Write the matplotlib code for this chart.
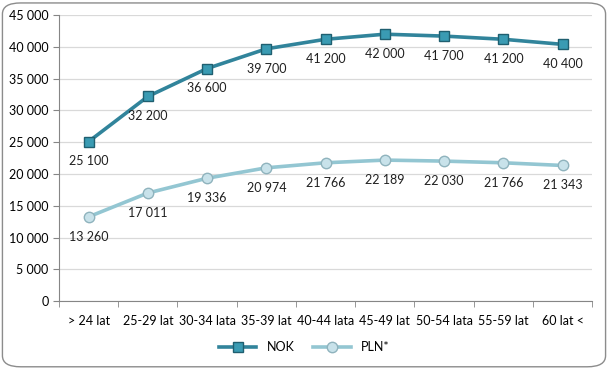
import matplotlib.pyplot as plt
from matplotlib.patches import FancyBboxPatch
from matplotlib.ticker import FuncFormatter

categories = ['> 24 lat', '25-29 lat', '30-34 lata', '35-39 lat', '40-44 lata',
              '45-49 lat', '50-54 lata', '55-59 lat', '60 lat <']
nok = [25100, 32200, 36600, 39700, 41200, 42000, 41700, 41200, 40400]
pln = [13260, 17011, 19336, 20974, 21766, 22189, 22030, 21766, 21343]

plt.rcParams['font.family'] = ['Lato', 'DejaVu Sans']


def spaced(v, pos=None):
    return '{:,}'.format(int(v)).replace(',', ' ')


fig = plt.figure(figsize=(6.08, 3.69), dpi=100)
ax = fig.add_axes([0.097, 0.184, 0.877, 0.775])

# rounded border around the whole chart
fig.patches.append(FancyBboxPatch((0.004, 0.006), 0.992, 0.986,
                                  boxstyle='round,pad=0,rounding_size=0.03',
                                  transform=fig.transFigure, fill=False,
                                  edgecolor='#8c8c8c', linewidth=1.0))

x = range(len(categories))
ax.plot(x, nok, color='#31849b', linewidth=2.6, marker='s', markersize=7,
        markerfacecolor='#3a9bb3', markeredgecolor='#1f5f70', label='NOK', zorder=3)
ax.plot(x, pln, color='#93c6d2', linewidth=2.6, marker='o', markersize=7.5,
        markerfacecolor='#c8e2ea', markeredgecolor='#8fb3bd', label='PLN*', zorder=3)

for i in x:
    ax.annotate(spaced(nok[i]), (i, nok[i]), xytext=(0, -10), textcoords='offset points',
                ha='center', va='top', fontsize=9, color='#202020')
    ax.annotate(spaced(pln[i]), (i, pln[i]), xytext=(0, -10), textcoords='offset points',
                ha='center', va='top', fontsize=9, color='#202020')

ax.set_xlim(-0.5, len(categories) - 0.5)
ax.set_ylim(0, 45000)
ax.set_yticks(range(0, 45001, 5000))
ax.yaxis.set_major_formatter(FuncFormatter(spaced))
ax.set_xticks(x)
ax.set_xticklabels(categories)
ax.set_xticks([i + 0.5 for i in range(-1, len(categories))], minor=True)
ax.tick_params(axis='x', which='major', length=0, pad=10, labelsize=9)
ax.tick_params(axis='x', which='minor', length=4, color='#868686')
ax.tick_params(axis='y', length=4, color='#868686', labelsize=9)
ax.grid(axis='y', color='#d9d9d9', linewidth=0.9)
ax.set_axisbelow(True)
for s in ['top', 'right']:
    ax.spines[s].set_visible(False)
ax.spines['left'].set_color('#868686')
ax.spines['bottom'].set_color('#868686')

fig.legend(loc='lower center', bbox_to_anchor=(0.5, 0.012), ncol=2, frameon=False,
           fontsize=9, handlelength=3, columnspacing=1.5)

plt.savefig('out.png', dpi=100)
